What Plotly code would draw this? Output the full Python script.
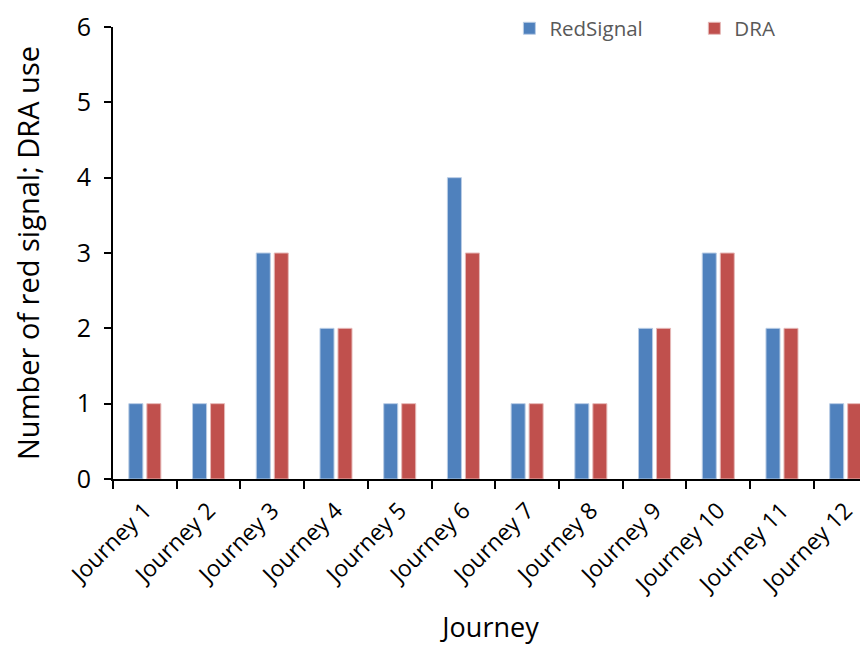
import plotly.graph_objects as go

journeys = ["Journey 1", "Journey 2", "Journey 3", "Journey 4", "Journey 5", "Journey 6",
            "Journey 7", "Journey 8", "Journey 9", "Journey 10", "Journey 11", "Journey 12"]
red_signal = [1, 1, 3, 2, 1, 4, 1, 1, 2, 3, 2, 1]
dra = [1, 1, 3, 2, 1, 3, 1, 1, 2, 3, 2, 1]

FONT = "Open Sans, Calibri, sans-serif"

fig = go.Figure()
fig.add_trace(go.Bar(x=journeys, y=red_signal, name="RedSignal", legend="legend",
                     marker=dict(color="#4F81BD", line=dict(color="#B9CDE5", width=1))))
fig.add_trace(go.Bar(x=journeys, y=dra, name="DRA", legend="legend2",
                     marker=dict(color="#C0504D", line=dict(color="#E6B9B8", width=1))))

leg_common = dict(orientation="h", xanchor="left", yanchor="top", y=1.041,
                  font=dict(size=20.5, color="#595959", family=FONT),
                  bgcolor="rgba(0,0,0,0)", borderwidth=0)

fig.update_layout(
    width=860, height=637,
    margin=dict(l=105, r=0, t=19, b=166),
    paper_bgcolor="white", plot_bgcolor="white",
    barmode="group", bargap=0.435, bargroupgap=0.22,
    font=dict(family=FONT, color="black"),
    showlegend=True,
    legend=dict(x=0.525, **leg_common),
    legend2=dict(x=0.77, **leg_common),
    xaxis=dict(
        type="category", range=[-0.5, 11.35], automargin=False,
        showline=True, linecolor="black", linewidth=2,
        ticks="outside", tickson="boundaries", ticklen=8, tickwidth=2, tickcolor="black",
        tickangle=-45, tickfont=dict(size=23, family=FONT, color="black"),
        ticklabelstandoff=7,
        showgrid=False, zeroline=False,
        title=dict(text="Journey", font=dict(size=27, family=FONT, color="black"), standoff=25),
    ),
    yaxis=dict(
        range=[0, 6], dtick=1, automargin=False,
        showline=True, linecolor="black", linewidth=2,
        ticks="outside", ticklen=7, tickwidth=2, tickcolor="black",
        tickfont=dict(size=25, family=FONT, color="black"),
        ticklabelstandoff=8,
        showgrid=False, zeroline=False,
        title=dict(text="Number of red signal; DRA use", font=dict(size=29, family=FONT, color="black"), standoff=40),
    ),
)

fig.write_html("out.html")
